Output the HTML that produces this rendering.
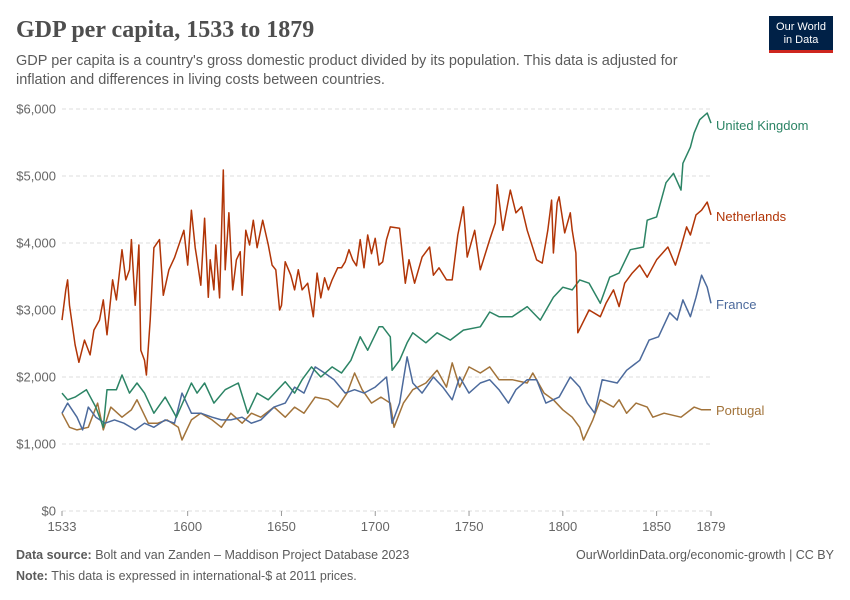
<!DOCTYPE html>
<html><head><meta charset="utf-8"><style>
body{margin:0;background:#fff;font-family:"Liberation Sans",sans-serif;}
#wrap{position:relative;width:850px;height:600px;overflow:hidden;}
.t{position:absolute;white-space:nowrap;}
</style></head><body>
<div id="wrap">
<div class="t" style="left:16px;top:17px;font-family:'Liberation Serif',serif;font-size:24px;font-weight:bold;color:#4e4e4e;">GDP per capita, 1533 to 1879</div>
<div class="t" style="left:16px;top:52px;font-size:14.5px;line-height:19px;color:#5b5b5b;">GDP per capita is a country's gross domestic product divided by its population. This data is adjusted for<br>inflation and differences in living costs between countries.</div>
<div style="position:absolute;left:769px;top:16px;width:64px;height:37px;background:#002147;color:#fff;font-size:11px;line-height:13px;text-align:center;">
<div style="padding-top:5px;">Our World<br>in Data</div>
<div style="position:absolute;left:0;bottom:0;width:64px;height:3px;background:#ce261e;"></div></div>
<svg id="chart" width="850" height="600" style="position:absolute;left:0;top:0;"></svg>
<div class="t" style="left:16px;top:548px;font-size:12.5px;color:#5b5b5b;"><b>Data source:</b> Bolt and van Zanden – Maddison Project Database 2023</div>
<div class="t" style="right:16px;top:548px;font-size:12.5px;color:#5b5b5b;">OurWorldinData.org/economic-growth | CC BY</div>
<div class="t" style="left:16px;top:569px;font-size:12.5px;color:#5b5b5b;"><b>Note:</b> This data is expressed in international-$ at 2011 prices.</div>
</div>
<script>
const yTicks=[0,1000,2000,3000,4000,5000,6000];
const yTickLabels=["$0","$1,000","$2,000","$3,000","$4,000","$5,000","$6,000"];
const xTicks=[1533,1600,1650,1700,1750,1800,1850,1879];
const seriesNames=["United Kingdom","Netherlands","France","Portugal"];
const nlYears=[1533,1535,1536,1537,1540,1542,1545,1548,1550,1553,1555,1557,1560,1562,1565,1567,1569,1570,1572,1574,1575,1577,1578,1580,1582,1585,1587,1590,1593,1596,1598,1600,1602,1604,1605,1607,1609,1611,1612,1614,1615,1617,1619,1620,1622,1624,1626,1628,1629,1631,1633,1635,1637,1640,1643,1645,1647,1649,1650,1652,1655,1657,1659,1661,1664,1667,1669,1671,1673,1675,1677,1680,1682,1684,1686,1688,1690,1692,1694,1696,1698,1700,1702,1704,1706,1708,1713,1716,1718,1721,1725,1729,1731,1734,1738,1741,1744,1747,1749,1753,1756,1761,1764,1765,1768,1772,1775,1778,1781,1786,1789,1792,1794,1795,1797,1798,1801,1804,1805,1807,1808,1814,1820,1823,1827,1830,1833,1837,1841,1845,1850,1856,1860,1863,1866,1868,1871,1874,1877,1879];
const nlValues=[2850,3300,3450,3070,2480,2220,2550,2330,2700,2850,3150,2630,3450,3150,3900,3450,3600,4050,3070,3970,2400,2250,2030,2850,3930,4050,3220,3600,3780,4030,4190,3670,4490,3930,3750,3370,4370,3190,3750,3300,3970,3180,5090,3600,4450,3300,3750,3870,3220,4190,3970,4340,3930,4340,3970,3670,3600,3000,3070,3720,3520,3300,3600,3300,3400,2900,3550,3180,3480,3300,3450,3630,3630,3720,3900,3750,3660,4050,3630,4120,3840,4070,3670,3720,4050,4240,4220,3400,3750,3400,3790,3940,3520,3630,3450,3450,4120,4540,3790,4190,3600,4050,4300,4870,4190,4790,4450,4540,4190,3750,3700,4190,4640,3850,4600,4690,4150,4450,4190,3850,2660,3000,2900,3100,3300,3050,3400,3550,3670,3490,3750,3940,3670,3940,4240,4120,4420,4490,4610,4420];
const ukYears=[1533,1536,1540,1546,1551,1555,1557,1562,1565,1569,1573,1577,1582,1588,1591,1594,1602,1605,1609,1614,1620,1627,1632,1637,1643,1652,1657,1661,1666,1671,1677,1682,1687,1692,1696,1702,1704,1708,1709,1713,1717,1720,1727,1733,1740,1747,1756,1761,1766,1773,1781,1788,1795,1800,1805,1809,1814,1820,1825,1830,1836,1843,1845,1850,1855,1859,1863,1864,1868,1870,1873,1877,1879];
const ukValues=[1760,1660,1700,1810,1550,1250,1810,1810,2030,1760,1910,1760,1460,1700,1550,1400,1910,1760,1910,1610,1810,1910,1460,1760,1660,1930,1760,1960,2150,2000,2150,2060,2250,2600,2400,2750,2750,2600,2100,2250,2510,2660,2510,2660,2550,2700,2750,2970,2900,2900,3050,2850,3190,3340,3300,3450,3400,3100,3490,3550,3900,3940,4340,4390,4900,5040,4790,5190,5430,5640,5840,5940,5790];
const frYears=[1533,1536,1541,1544,1547,1551,1556,1561,1566,1572,1577,1582,1588,1593,1597,1602,1607,1613,1618,1623,1629,1634,1639,1646,1652,1657,1662,1668,1673,1678,1684,1689,1694,1700,1706,1709,1713,1717,1720,1725,1731,1736,1741,1745,1750,1756,1761,1766,1771,1775,1781,1786,1791,1798,1804,1809,1813,1817,1821,1829,1834,1841,1846,1851,1857,1861,1864,1868,1871,1874,1877,1879];
const frValues=[1460,1610,1400,1210,1550,1400,1310,1360,1310,1210,1310,1250,1360,1310,1760,1460,1460,1400,1360,1360,1400,1310,1360,1550,1610,1850,1760,2150,2060,1960,1760,1810,1760,1850,2000,1310,1610,2300,1910,1760,2000,1850,1660,2000,1760,1910,1960,1810,1610,1810,1960,1960,1610,1700,2000,1850,1610,1460,1960,1910,2100,2250,2550,2600,2960,2850,3150,2900,3190,3520,3340,3100];
const ptYears=[1533,1537,1541,1547,1552,1555,1559,1565,1570,1573,1579,1584,1589,1595,1597,1602,1607,1613,1618,1623,1629,1634,1639,1646,1652,1657,1662,1668,1675,1680,1685,1689,1693,1698,1703,1708,1710,1715,1720,1727,1733,1738,1741,1745,1750,1756,1761,1766,1773,1781,1784,1790,1795,1800,1805,1809,1811,1816,1820,1827,1830,1834,1839,1845,1848,1854,1863,1870,1874,1879];
const ptValues=[1460,1250,1210,1250,1610,1210,1550,1400,1510,1660,1310,1310,1360,1250,1060,1360,1460,1360,1250,1460,1310,1460,1400,1550,1400,1550,1460,1700,1660,1550,1760,2060,1810,1610,1700,1610,1250,1610,1810,1910,2100,1850,2210,1850,2150,2060,2150,1960,1960,1910,2060,1760,1660,1510,1400,1250,1060,1360,1660,1550,1660,1460,1610,1550,1400,1460,1400,1550,1510,1510];
const colors=["#2c8465","#b13507","#4c6a9c","#a2733a"];
const NS="http://www.w3.org/2000/svg";
const svg=document.getElementById('chart');
const X0=62,X1=711,Y0=511,Y1=109;
function xs(y){return X0+(y-1533)/(1879-1533)*(X1-X0);}
function ys(v){return Y0-v/6000*(Y0-Y1);}
function mk(tag,attrs){const e=document.createElementNS(NS,tag);for(const k in attrs)e.setAttribute(k,attrs[k]);svg.appendChild(e);return e;}
yTicks.forEach((v,i)=>{
 const g=mk('line',{x1:X0,x2:X1,y1:ys(v),y2:ys(v),stroke:'#ddd','stroke-dasharray':'4,3'});
 
 
 const t=mk('text',{x:56,y:ys(v)+4.5,'text-anchor':'end','font-size':13,fill:'#666','font-family':'Liberation Sans, sans-serif'});
 t.textContent=yTickLabels[i];
 
 
});
xTicks.forEach(v=>{
 const l=mk('line',{x1:xs(v),x2:xs(v),y1:Y0,y2:Y0+5,stroke:'#999'});
 
 
 const t=mk('text',{x:xs(v),y:Y0+20,'text-anchor':'middle','font-size':13,fill:'#666','font-family':'Liberation Sans, sans-serif'});
 t.textContent=v;
 
 
});
const sx=[ukYears,nlYears,frYears,ptYears],sv=[ukValues,nlValues,frValues,ptValues];
const order=[3,2,0,1];
order.forEach(i=>{
 const d=sx[i].map((y,j)=>(j?'L':'M')+xs(y).toFixed(1)+','+ys(sv[i][j]).toFixed(1)).join('');
 const p=mk('path',{d:d,fill:'none',stroke:colors[i],'stroke-width':1.5,'stroke-linejoin':'round'});
 
 
});
const labelY=[125,216,304,410];
seriesNames.forEach((n,i)=>{
 const t=mk('text',{x:716,y:labelY[i]+5,'font-size':13,fill:colors[i],'font-family':'Liberation Sans, sans-serif'});
 t.textContent=n;
 
 
});
</script>
</body></html>
